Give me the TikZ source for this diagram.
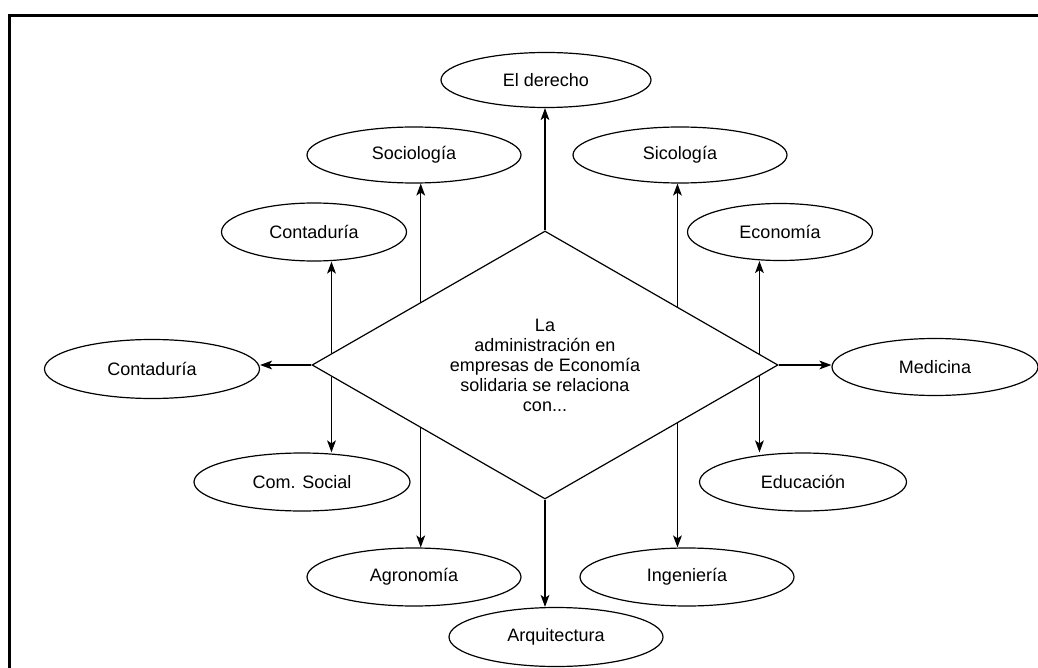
\documentclass[tikz,border=0pt]{standalone}
\usepackage{fontspec}
\setmainfont{Liberation Sans}
\usetikzlibrary{shapes.geometric,arrows.meta,calc}

\begin{document}
\begin{tikzpicture}[x=0.5pt,y=-0.5pt,
  area/.style={ellipse,draw,line width=0.6pt,minimum width=107pt,minimum height=28.5pt,inner sep=0pt,font=\fontsize{9}{10}\selectfont},
  link/.style={-{Stealth[length=6pt,width=4.4pt,inset=1.5pt]},line width=0.6pt}]
\useasboundingbox (0,0) rectangle (1038,668);
\draw[line width=1.5pt] (9.5,668) -- (9.5,15.3) -- (1038,15.3);

% centre
\node (c) at (545,365) [diamond,draw,aspect=1.74,line width=0.6pt,minimum width=233pt,minimum height=134pt,inner sep=0pt,align=center,font=\fontsize{9}{10}\selectfont] {La\\administración en\\empresas de Economía\\solidaria se relaciona\\con...};

% areas
\node (der)   at (546,80)  [area,minimum width=105pt,minimum height=27.5pt] {El derecho};
\node (soc)   at (414,155) [area,minimum height=28pt] {Sociología};
\node (sic)   at (680,155) [area,minimum height=28pt] {Sicología};
\node (cont1) at (314,232) [area,minimum width=92.5pt,minimum height=29pt] {Contaduría};
\node (eco)   at (780,232) [area,minimum width=92.5pt] {Economía};
\node (cont2) at (152,369) [area,minimum width=107.5pt,minimum height=29.5pt] {Contaduría};
\node (med)   at (935,367) [area,minimum width=103pt] {Medicina};
\node (coms)  at (302,482) [area,minimum width=108pt,minimum height=29pt] {Com. Social};
\node (edu)   at (803,482) [area,minimum width=103.5pt,minimum height=29pt] {Educación};
\node (agro)  at (414,577) [area,minimum height=29pt] {Agronomía};
\node (ing)   at (687,577) [area,minimum height=29pt] {Ingeniería};
\node (arq)   at (556,637) [area,minimum height=29.5pt] {Arquitectura};

% points on the edges of the diamond
\coordinate (p1) at ($(c.west)!0.086!(c.north)$);
\coordinate (p2) at ($(c.west)!0.468!(c.north)$);
\coordinate (p3) at ($(c.east)!0.433!(c.north)$);
\coordinate (p4) at ($(c.east)!0.082!(c.north)$);
\coordinate (q1) at ($(c.west)!0.086!(c.south)$);
\coordinate (q2) at ($(c.west)!0.468!(c.south)$);
\coordinate (q3) at ($(c.east)!0.433!(c.south)$);
\coordinate (q4) at ($(c.east)!0.082!(c.south)$);

\draw[link] (c.north) -- (c.north |- der.south);
\draw[link] (c.south) -- (c.south |- arq.north);
\draw[link] (c.west)  -- (c.west -| cont2.east);
\draw[link] (c.east)  -- (c.east -| med.west);
\draw[link] (p1) -- (p1 |- cont1.south);
\draw[link] (p2) -- (p2 |- soc.south);
\draw[link] (p3) -- (p3 |- sic.south);
\draw[link] (p4) -- (p4 |- eco.south);
\draw[link] (q1) -- (q1 |- coms.north);
\draw[link] (q2) -- (q2 |- agro.north);
\draw[link] (q3) -- (q3 |- ing.north);
\draw[link] (q4) -- (q4 |- edu.north);
\end{tikzpicture}
\end{document}
